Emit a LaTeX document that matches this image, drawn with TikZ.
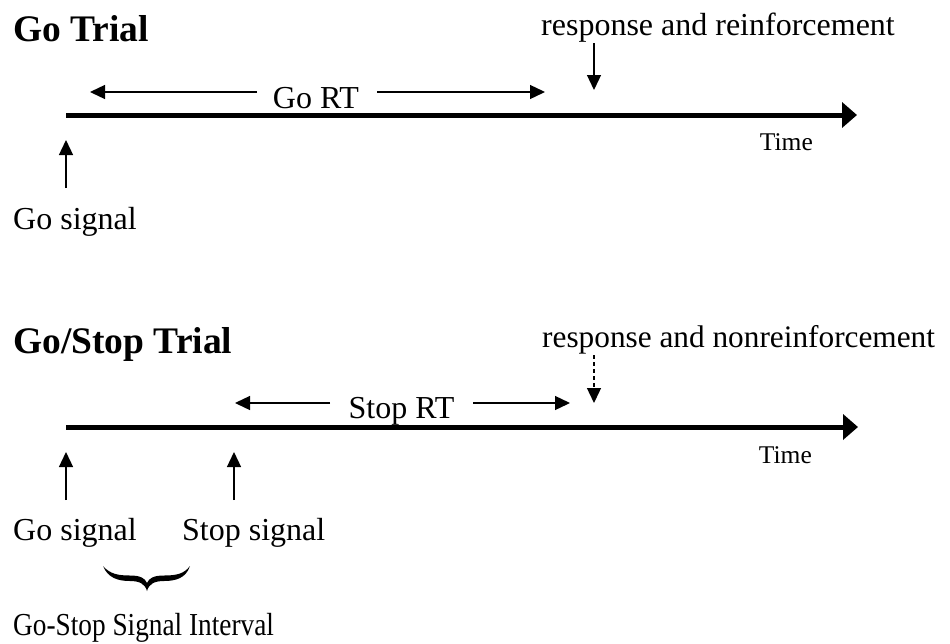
\documentclass[tikz,border=0pt]{standalone}
\usepackage{fontspec}
\setmainfont{Liberation Serif}
\usetikzlibrary{arrows.meta}
\begin{document}
\begin{tikzpicture}[x=1pt,y=-1pt,
  lbl/.style={inner sep=0pt, anchor=base west, font=\fontsize{32}{38}\selectfont},
  ttl/.style={inner sep=0pt, anchor=base west, font=\fontsize{37.5}{44}\selectfont\bfseries},
  timelbl/.style={inner sep=0pt, anchor=base east, font=\fontsize{25.5}{30}\selectfont},
  axis/.style={line width=5pt, -{Triangle[length=15pt,width=25pt]}},
  sig/.style={line width=1.3pt, -{Triangle[length=15pt,width=14pt]}},
  sigd/.style={sig, dash pattern=on 4pt off 3pt}]
\useasboundingbox (0,0) rectangle (950,643);

% ---------------- Go Trial ----------------
\node[ttl] (t1) at (13,41) {Go Trial};
\node[lbl] (resp1) at (541,35) {response and reinforcement};
\coordinate (a1s) at (66,115);
\coordinate (a1e) at (857,115);
\draw[axis] (a1s) -- (a1e);
\node[timelbl] (time1) at (813,150) {Time};

\coordinate (r1top) at (594,43);
\coordinate (r1tip) at (594,90);
\draw[sig] (r1top) -- (r1tip);

\node[lbl, anchor=base] (gort) at (316,108) {Go RT};
\coordinate (gorLs) at (257,92);
\coordinate (gorLe) at (90,92);
\coordinate (gorRs) at (377,92);
\coordinate (gorRe) at (545,92);
\draw[sig] (gorLs) -- (gorLe);
\draw[sig] (gorRs) -- (gorRe);

\node[lbl] (gosig1) at (13,229) {Go signal};
\coordinate (g1tail) at (66,188);
\coordinate (g1tip) at (66,140);
\draw[sig] (g1tail) -- (g1tip);

% ---------------- Go/Stop Trial ----------------
\node[ttl] (t2) at (13,353) {Go/Stop Trial};
\node[lbl, font=\fontsize{31.3}{38}\selectfont] (resp2) at (542,347) {response and nonreinforcement};
\coordinate (a2s) at (66,427);
\coordinate (a2e) at (858,427);
\draw[axis] (a2s) -- (a2e);
\node[timelbl] (time2) at (812,463) {Time};

\coordinate (r2top) at (594,355);
\coordinate (r2tip) at (594,403);
\draw[sigd] (r2top) -- (r2tip);

\node[lbl, anchor=base] (stoprt) at (401.5,418) {Stop RT};
\coordinate (srLs) at (330,403);
\coordinate (srLe) at (235,403);
\coordinate (srRs) at (473,403);
\coordinate (srRe) at (570,403);
\draw[sig] (srLs) -- (srLe);
\draw[sig] (srRs) -- (srRe);

\node[lbl] (gosig2) at (13,540) {Go signal};
\node[lbl] (stopsig) at (182,540) {Stop signal};
\coordinate (g2tail) at (66,500);
\coordinate (g2tip) at (66,452);
\coordinate (s2tail) at (234,500);
\coordinate (s2tip) at (234,452);
\draw[sig] (g2tail) -- (g2tip);
\draw[sig] (s2tail) -- (s2tip);

% brace
\fill (103,566) .. controls (108,578) and (118,581) .. (130,581)
      .. controls (140,581) and (145,584) .. (147,591)
      .. controls (149,584) and (154,581) .. (164,581)
      .. controls (176,581) and (186,578) .. (190,566)
      .. controls (184,574) and (176,575.5) .. (164,575.5)
      .. controls (154,575.5) and (149,578) .. (147,583)
      .. controls (145,578) and (140,575.5) .. (130,575.5)
      .. controls (118,575.5) and (110,574) .. (103,566) -- cycle;

\node[lbl] (interval) at (13,635) {\scalebox{0.853}[1]{Go-Stop Signal Interval}};
\end{tikzpicture}
\end{document}
